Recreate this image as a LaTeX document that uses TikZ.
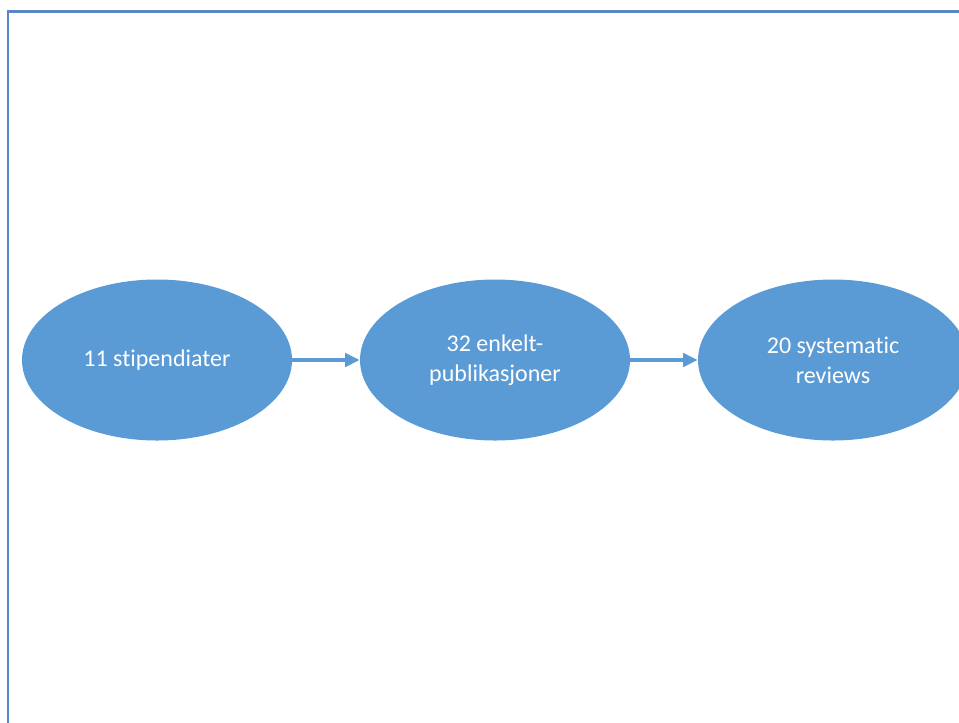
\documentclass[tikz,border=0pt]{standalone}
\usepackage{fontspec}
\setmainfont{Carlito}[Ligatures={NoCommon}]
\usetikzlibrary{shapes.geometric,arrows.meta}
\definecolor{ovalblue}{HTML}{5B9BD5}
\definecolor{framecol}{HTML}{5A86C4}
\tikzset{
  oval/.style={ellipse, fill=ovalblue, draw=none, minimum width=270*0.75pt, minimum height=161*0.75pt, inner sep=0pt,
    text=white, font=\fontsize{18}{22.5}\selectfont, align=center},
  flow/.style={draw=ovalblue, line width=2.8pt, -{Triangle[length=11pt,width=10pt]}}
}
\begin{document}
\begin{tikzpicture}[x=0.75pt,y=-0.75pt]
\useasboundingbox (0,0) rectangle (959,722);
\begin{scope}
\clip (0,0) rectangle (959,722);
\draw[framecol, line width=2.2pt] (8,730) -- (8,11.5) -- (970,11.5);
\node[oval] (a) at (157,360) {11 stipendiater};
\node[oval] (b) at (495,360) {32 enkelt-\\publikasjoner};
\node[oval] (c) at (833,360) {20 systematic\\reviews};
\draw[flow] (a.east) -- (b.west);
\draw[flow] (b.east) -- (c.west);
\end{scope}
\end{tikzpicture}
\end{document}
